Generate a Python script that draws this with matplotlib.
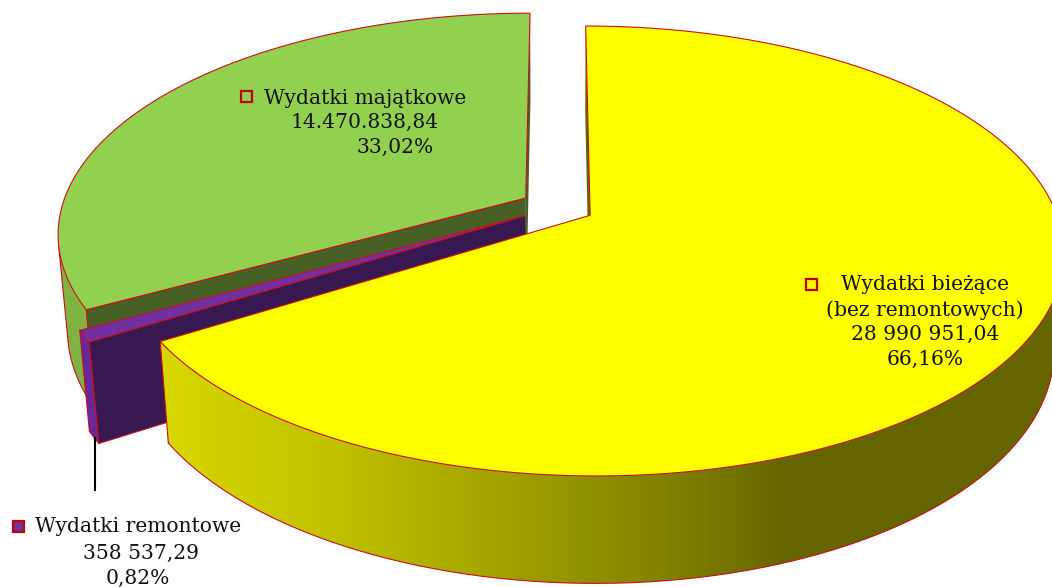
import numpy as np
import matplotlib
matplotlib.use("Agg")
import matplotlib.pyplot as plt
from matplotlib.colors import LinearSegmentedColormap
from matplotlib.patches import Polygon, Rectangle
from matplotlib.path import Path

# Budget figures
values = [28990951.04, 358537.29, 14470838.84]
label_lines = [
    ["Wydatki bieżące", "(bez remontowych)", "28 990 951,04", "66,16%"],
    ["Wydatki remontowe", "358 537,29", "0,82%"],
    ["Wydatki majątkowe", "14.470.838,84", "33,02%"],
]

# Pie geometry, in pixels of the canvas
CX, CY = 557.5, 206.8
RX, RY = 464.0, 216.6
PERSP = 0.1578
DROP = 97.0
DROP_PERSP = 0.019
EXPLODE = 0.08

EDGE = "#C8101A"
LW = 0.8
top_colors = ["#FFFF00", "#7030A0", "#92D050"]
face_colors = ["#666600", "#371850", "#466026"]
wall_stops = [
    [(0, "#D8D800"), (0.2, "#C0C000"), (0.4, "#9E9E00"), (0.6, "#7A7A00"), (0.7, "#646400"),
     (1, "#666600")],
    ["#66299A", "#66299A"],
    ["#82B444", "#7CAA40"],
]
# which cut faces show: index into the arc, and whether they get an outline
cut_faces = [[(0, False)], [(0, True)], [(0, True), (-1, False)]]


def project(x, y, lower=False):
    w = 1 + PERSP * y
    if lower:
        w = w + DROP_PERSP
        return CX + RX * x / w, CY + (-RY * y + DROP) / w
    return CX + RX * x / w, CY - RY * y / w


def front_quads(top_arc, low_arc):
    # keep the wall strips facing the viewer: going clockwise round the pie,
    # those run right to left along the screen
    quads = []
    flags = []
    for a, b, c, d in zip(top_arc[:-1], top_arc[1:], low_arc[1:], low_arc[:-1]):
        q = np.array([a, b, c, d, a])
        area = np.sum(q[:-1, 0] * q[1:, 1] - q[1:, 0] * q[:-1, 1])
        flags.append(area < 0)
        if area < 0:
            quads.append(Path(q, closed=True))
    return Path.make_compound_path(*quads), np.array(flags)


def draw_slice(ax, a0, a1, i, z):
    mid = np.radians((a0 + a1) / 2)
    ox, oy = EXPLODE * np.sin(mid), EXPLODE * np.cos(mid)
    t = np.radians(np.linspace(a0, a1, 400))
    rx, ry = ox + np.sin(t), oy + np.cos(t)
    top_arc = np.column_stack(project(rx, ry))
    low_arc = np.column_stack(project(rx, ry, True))
    apex = np.array(project(ox, oy))
    apex_low = np.array(project(ox, oy, True))

    # outer wall, shaded from left to right
    both = np.vstack([top_arc, low_arc])
    x0, x1 = both[:, 0].min(), both[:, 0].max()
    y0, y1 = both[:, 1].min(), both[:, 1].max()
    cmap = LinearSegmentedColormap.from_list("wall", wall_stops[i])
    img = ax.imshow(np.linspace(0, 1, 512)[None, :], cmap=cmap, aspect="auto",
                    extent=[x0, x1, y1, y0], zorder=z, interpolation="bilinear")
    clip, front = front_quads(top_arc, low_arc)
    img.set_clip_path(clip, ax.transData)

    # wall outline: lower rim of the visible strips and their vertical ends
    shown = np.nonzero(front)[0]
    first, last = shown[0], shown[-1] + 1
    ax.plot(low_arc[first:last + 1, 0], low_arc[first:last + 1, 1], color=EDGE, lw=LW,
            zorder=z + 0.1)
    for k in (first, last):
        ax.plot([top_arc[k, 0], low_arc[k, 0]], [top_arc[k, 1], low_arc[k, 1]], color=EDGE,
                lw=LW, zorder=z + 0.1)

    # cut faces, with no stroke down the inner corner
    for k, outlined in cut_faces[i]:
        cut = np.vstack([apex, top_arc[k], low_arc[k], apex_low])
        ax.add_patch(Polygon(cut, closed=False, fc=face_colors[i],
                             ec=EDGE if outlined else "none", lw=LW, zorder=z + 0.2))

    # top
    ax.add_patch(Polygon(np.vstack([apex, top_arc]), closed=True, fc=top_colors[i],
                         ec=EDGE, lw=LW, zorder=z + 0.3))


fig = plt.figure(figsize=(10.52, 5.87), dpi=100)
ax = fig.add_axes([0, 0, 1, 1])

angles = np.cumsum([0] + values) / sum(values) * 360
for n, i in enumerate([2, 1, 0]):
    draw_slice(ax, angles[i], angles[i + 1], i, 2 + n)

# leader line for the small slice
ax.plot([95, 95], [438, 490], color="black", lw=1.5, zorder=8)

# labels
text_x = [[925, 925, 925, 925], [138.5, 141, 138], [365, 365, 395]]
text_y = [[285, 310, 334, 359], [527, 553, 578], [98, 122, 147]]
key_xy = [(811, 284), (18, 526), (246, 96)]
for i in range(3):
    for line, tx, ty in zip(label_lines[i], text_x[i], text_y[i]):
        ax.text(tx, ty, line, ha="center", va="center", family="DejaVu Serif",
                fontsize=14.6, color="#111111", zorder=9)
    kx, ky = key_xy[i]
    ax.add_patch(Rectangle((kx - 5.5, ky - 5.5), 11, 11, fc=top_colors[i], ec="#C00000",
                           lw=1.6, zorder=9))

ax.set_xlim(0, 1052)
ax.set_ylim(587, 0)
ax.axis("off")
fig.savefig("out.png", dpi=100, facecolor="white")
